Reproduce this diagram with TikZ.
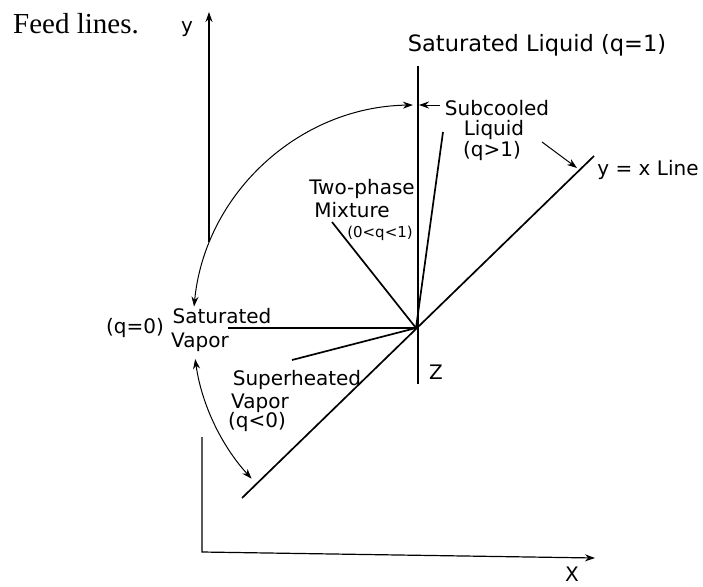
\documentclass[tikz,border=0pt]{standalone}
\usepackage{fontspec}
\setmainfont{DejaVu Sans}
\newfontfamily\serifface{Liberation Serif}
\usetikzlibrary{arrows.meta,calc}
\begin{document}
\begin{tikzpicture}[x=1pt,y=-1pt,
  lbl/.style={inner sep=0pt,font=\fontsize{20}{22}\selectfont},
  small/.style={inner sep=0pt,font=\fontsize{15}{17}\selectfont},
  feed/.style={line width=1.7pt},
  axis/.style={line width=1.2pt},
  swing/.style={line width=1pt},
  tip/.style={-{Stealth[length=10pt,width=7pt]}}
]
\useasboundingbox (0,0) rectangle (703,586);
% key points
\coordinate (F) at (416,328);
\coordinate (yb) at (209,242);
\coordinate (yt) at (209,12);
\coordinate (ob) at (202,437);
\coordinate (oo) at (202,552);
\coordinate (xe) at (595,558);
\coordinate (lt) at (418,66);
\coordinate (lb) at (418,384);
\coordinate (dl) at (242,498);
\coordinate (du) at (594,156);
\coordinate (sc) at (443,132);
\coordinate (tp) at (332,222);
\coordinate (sv) at (228,328);
\coordinate (sh) at (292,360);
\coordinate (ra) at (440,105);
\coordinate (rb) at (419,105);
\coordinate (la) at (542,142);
\coordinate (lz) at (577,168);
% axes
\draw[axis,tip] (yb) -- (yt);
\draw[axis,tip] (ob) -- (oo) -- (xe);
% feed lines
\draw[feed] (lt) -- (lb);
\draw[feed] (dl) -- (du);
\draw[feed] (F) -- (sc);
\draw[feed] (F) -- (tp);
\draw[feed] (F) -- (sv);
\draw[feed] (F) -- (sh);
% swing arcs
\draw[swing,{Stealth[length=10pt,width=7pt]}-{Stealth[length=10pt,width=7pt]}]
  ($(F)+(-90.8:223)$) arc[start angle=-90.8, end angle=-174.5, radius=223];
\draw[swing,{Stealth[length=10pt,width=7pt]}-{Stealth[length=10pt,width=7pt]}]
  ($(F)+(-188:223)$) arc[start angle=-188, end angle=-222.5, radius=223];
\draw[swing,tip] (ra) -- (rb);
\draw[swing,tip] (la) -- (lz);
% labels
\node[inner sep=0pt,font=\serifface\fontsize{29}{32}\selectfont] (feedlbl) at (76,24) {Feed lines.};
\node[lbl] (ylbl) at (187,29) {y};
\node[lbl,font=\fontsize{22.5}{25}\selectfont] (satliq) at (537,45) {Saturated Liquid (q=1)};
\node[lbl] (sub1) at (497,108) {Subcooled};
\node[lbl] (sub2) at (494,130) {Liquid};
\node[lbl] (sub3) at (492,151) {(q>1)};
\node[lbl] (yx) at (648,170) {y = x Line};
\node[lbl] (tp1) at (362,189) {Two-phase};
\node[lbl] (tp2) at (352,210) {Mixture};
\node[small] (tp3) at (380,233) {(0<q<1)};
\node[lbl] (sv0) at (135,328) {(q=0)};
\node[lbl] (sv1) at (222,316) {Saturated};
\node[lbl] (sv2) at (200,342) {Vapor};
\node[lbl] (sh1) at (297,380) {Superheated};
\node[lbl] (sh2) at (260,403) {Vapor};
\node[lbl] (sh3) at (257,422) {(q<0)};
\node[lbl] (zl) at (436,372) {Z};
\node[lbl] (xl) at (572,574) {X};
\end{tikzpicture}
\end{document}
